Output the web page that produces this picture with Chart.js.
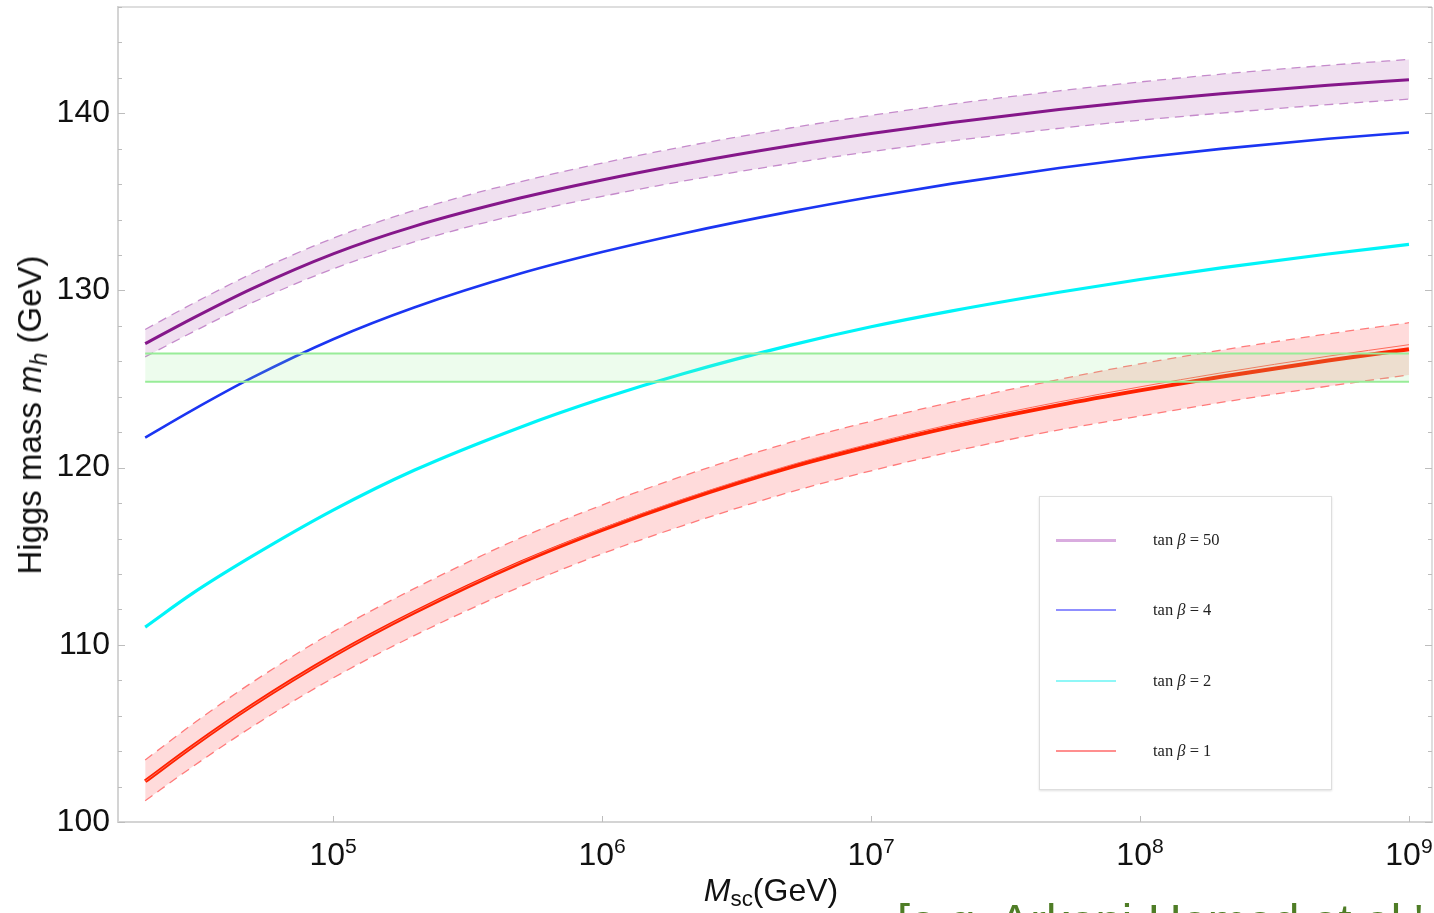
<!DOCTYPE html>
<html>
<head>
<meta charset="utf-8">
<script src="https://cdn.jsdelivr.net/npm/chart.js@4.4.1/dist/chart.umd.min.js"></script>
<style>
  html, body { margin: 0; padding: 0; background: #fff; overflow: hidden; }
  #wrap { position: relative; width: 1434px; height: 913px; overflow: hidden; }
  #wrap canvas { position: absolute; left: 0; top: 0; }
  .ytitle {
    position: absolute; left: 30px; top: 415px;
    transform: translate(-50%, -50%) rotate(-90deg);
    font: 33px "Liberation Sans", Arial, sans-serif; color: #111; white-space: nowrap;
  }
  .xtitle {
    position: absolute; left: 771px; top: 890px;
    transform: translate(-50%, -50%);
    font: 32px "Liberation Sans", Arial, sans-serif; color: #111; white-space: nowrap;
  }
  sub { font-size: 0.7em; vertical-align: -0.25em; line-height: 0; }
  .xtick {
    position: absolute; top: 836px; line-height: 1;
    transform: translateX(-50%);
    font: 32px "Liberation Sans", Arial, sans-serif; color: #111; white-space: nowrap;
  }
  .xtick sup { font-size: 0.66em; vertical-align: 0.55em; line-height: 0; }
  .cite {
    position: absolute; left: 897px; top: 893px; line-height: 1;
    font: 47px "Liberation Sans", Arial, sans-serif; color: #4f7d26; white-space: nowrap;
  }
  #legend {
    position: absolute; left: 1039px; top: 496px; width: 291px; height: 292px;
    border: 1px solid #dedede; box-shadow: 0 1px 2px rgba(0,0,0,0.12); background: #fff;
  }
  .item { position: absolute; left: 0; height: 20px; width: 100%; }
  .item span.swatch { position: absolute; left: 16px; width: 60px; top: 9px; }
  .item span.lab {
    position: absolute; left: 113px; top: 0; line-height: 20px;
    font: 16.5px "Liberation Serif", "Times New Roman", serif; color: #222;
  }
</style>
</head>
<body>
<div id="wrap">
  <canvas id="higgs"></canvas>
  <div class="ytitle">Higgs mass <i>m</i><sub><i>h</i></sub> (GeV)</div>
  <div class="xtitle"><i>M</i><sub>sc</sub>(GeV)</div>
  <div class="cite">[e.g. Arkani-Hamed et al.'</div>
  <div id="legend"></div>
</div>
<script>
// Datos (M_sc en GeV, m_h en GeV)
const msc = [2e4, 3e4, 5e4, 1e5, 2e5, 5e5, 1e6, 2e6, 5e6, 1e7, 2e7, 5e7, 1e8, 2e8, 5e8, 1e9];

const tb50   = [127.0, 128.43, 130.11, 132.07, 133.62, 135.23, 136.24, 137.13, 138.17, 138.86, 139.48, 140.21, 140.69, 141.11, 141.59, 141.9];
const tb50Hi = [127.8, 129.25, 130.96, 132.95, 134.52, 136.15, 137.19, 138.11, 139.17, 139.88, 140.52, 141.27, 141.77, 142.21, 142.71, 143.04];
const tb50Lo = [126.25, 127.65, 129.31, 131.22, 132.74, 134.33, 135.31, 136.17, 137.17, 137.84, 138.44, 139.15, 139.61, 140.01, 140.49, 140.8];

const tb4 = [121.7, 123.25, 125.08, 127.25, 129.04, 130.97, 132.17, 133.22, 134.45, 135.28, 136.03, 136.91, 137.49, 137.99, 138.56, 138.92];
const tb2 = [111.0, 112.9, 115.0, 117.6, 119.85, 122.3, 123.9, 125.3, 126.9, 127.95, 128.85, 129.9, 130.62, 131.28, 132.06, 132.6];

const tb1     = [102.3, 104.27, 106.58, 109.38, 111.82, 114.65, 116.49, 118.13, 120.02, 121.22, 122.3, 123.53, 124.36, 125.13, 126.05, 126.68];
const tb1Thin = [102.3, 104.27, 106.58, 109.38, 111.85, 114.7, 116.57, 118.23, 120.14, 121.36, 122.46, 123.71, 124.56, 125.35, 126.29, 126.94];
const tb1Hi   = [103.5, 105.52, 107.88, 110.73, 113.17, 116.05, 117.89, 119.53, 121.42, 122.62, 123.7, 124.98, 125.86, 126.63, 127.55, 128.18];
const tb1Lo   = [101.2, 103.12, 105.38, 108.13, 110.52, 113.3, 115.14, 116.73, 118.62, 119.82, 120.9, 122.13, 122.91, 123.68, 124.6, 125.23];

// banda experimental de la masa del Higgs
const higgsX  = [2e4, 1e9];
const higgsLo = [124.85, 124.85];
const higgsHi = [126.45, 126.45];

const xTicks = [1e5, 1e6, 1e7, 1e8, 1e9];
const xTickExp = ['5', '6', '7', '8', '9'];
const legendLabels = ['50', '4', '2', '1'];
const legendColors = ['#d9acdf', '#8f8fff', '#8ff7f7', '#ff8f8f'];

const pts = (xs, ys) => xs.map((x, i) => ({ x: x, y: ys[i] }));

function curva(ys, color, width, extra) {
    return Object.assign({
        data: pts(msc, ys),
        borderColor: color,
        borderWidth: width,
        pointRadius: 0,
        cubicInterpolationMode: 'monotone',
        fill: false,
        order: 2,
    }, extra || {});
}

// marcas hacia adentro y marco superior/derecho
const marcoPlugin = {
    id: 'marco',
    afterDraw(chart) {
        const { ctx, chartArea: a, scales } = chart;
        ctx.save();
        ctx.strokeStyle = '#d4d4d4';
        ctx.lineWidth = 1.5;
        ctx.beginPath();
        ctx.moveTo(a.left, a.top); ctx.lineTo(a.right, a.top);
        ctx.moveTo(a.right, a.top); ctx.lineTo(a.right, a.bottom);
        ctx.stroke();

        ctx.strokeStyle = '#bdbdbd';
        ctx.lineWidth = 1;
        ctx.beginPath();
        scales.y.ticks.forEach(t => {
            const py = Math.round(scales.y.getPixelForValue(t.value)) + 0.5;
            const len = t.value % 10 === 0 ? 7 : 4;
            ctx.moveTo(a.left, py); ctx.lineTo(a.left + len, py);
            ctx.moveTo(a.right, py); ctx.lineTo(a.right - len, py);
        });
        scales.x.ticks.forEach(t => {
            const px = Math.round(scales.x.getPixelForValue(t.value)) + 0.5;
            ctx.moveTo(px, a.bottom); ctx.lineTo(px, a.bottom - 6);
        });
        ctx.stroke();
        ctx.restore();
    }
};

const canvas = document.getElementById('higgs');
canvas.width = 1434;
canvas.height = 913;

const chart = new Chart(canvas, {
    type: 'line',
    data: {
        datasets: [
            // banda verde (encima de todo)
            { data: pts(higgsX, higgsLo), borderColor: '#98ec98', borderWidth: 2, pointRadius: 0, fill: false, order: 1 },
            { data: pts(higgsX, higgsHi), borderColor: '#98ec98', borderWidth: 2, pointRadius: 0, fill: '-1',
              backgroundColor: 'rgba(144, 238, 144, 0.16)', order: 1 },
            // tan beta = 50
            curva(tb50Lo, '#c58acb', 1.3, { borderDash: [9, 6], order: 3 }),
            curva(tb50Hi, '#c58acb', 1.3, { borderDash: [9, 6], order: 3, fill: '-1', backgroundColor: 'rgba(128, 0, 128, 0.12)' }),
            curva(tb50, '#85178a', 3),
            // tan beta = 4, 2
            curva(tb4, '#1b35f2', 2.6),
            curva(tb2, '#00f4f8', 3.2),
            // tan beta = 1
            curva(tb1Lo, '#ff7a7a', 1.3, { borderDash: [9, 6], order: 3 }),
            curva(tb1Hi, '#ff7a7a', 1.3, { borderDash: [9, 6], order: 3, fill: '-1', backgroundColor: 'rgba(255, 0, 0, 0.14)' }),
            curva(tb1Thin, '#ff6a5a', 1),
            curva(tb1, '#ff2200', 4),
        ],
    },
    options: {
        responsive: false,
        animation: false,
        events: [],
        layout: { padding: { top: 7, right: 2, left: 0, bottom: 0 } },
        plugins: { legend: { display: false }, tooltip: { enabled: false } },
        scales: {
            x: {
                type: 'logarithmic',
                min: 15849,
                max: 1.2178e9,
                afterBuildTicks: (scale) => { scale.ticks = xTicks.map(v => ({ value: v })); },
                afterFit: (scale) => { scale.height = 91; scale.paddingLeft = 0; scale.paddingRight = 0; },
                grid: { display: false, drawTicks: false },
                border: { display: true, color: '#d4d4d4', width: 2 },
                ticks: { display: false },
            },
            y: {
                min: 100,
                max: 146,
                afterFit: (scale) => { scale.width = 118; scale.paddingTop = 0; scale.paddingBottom = 0; },
                grid: { display: false, drawTicks: false },
                border: { display: true, color: '#d4d4d4', width: 2 },
                ticks: {
                    stepSize: 2,
                    autoSkip: false,
                    padding: 8,
                    color: '#111',
                    font: { family: '"Liberation Sans", Arial, sans-serif', size: 32 },
                    callback: (v) => (v % 10 === 0 ? String(v) : ''),
                },
            },
        },
    },
    plugins: [marcoPlugin],
});

// etiquetas del eje x (10^n) colocadas con la escala de Chart.js
const wrap = document.getElementById('wrap');
xTicks.forEach((v, i) => {
    const d = document.createElement('div');
    d.className = 'xtick';
    d.style.left = chart.scales.x.getPixelForValue(v) + 'px';
    d.innerHTML = '10<sup>' + xTickExp[i] + '</sup>';
    wrap.appendChild(d);
});

// leyenda
const legend = document.getElementById('legend');
const filas = [43, 113, 184, 254];
legendLabels.forEach((lab, i) => {
    const item = document.createElement('div');
    item.className = 'item';
    item.style.top = (filas[i] - 10) + 'px';
    const h = i === 0 ? 3 : 2;
    item.innerHTML = '<span class="swatch" style="height:' + h + 'px;background:' + legendColors[i] + '"></span>' +
        '<span class="lab">tan <i>β</i> = ' + lab + '</span>';
    legend.appendChild(item);
});
</script>
</body>
</html>
